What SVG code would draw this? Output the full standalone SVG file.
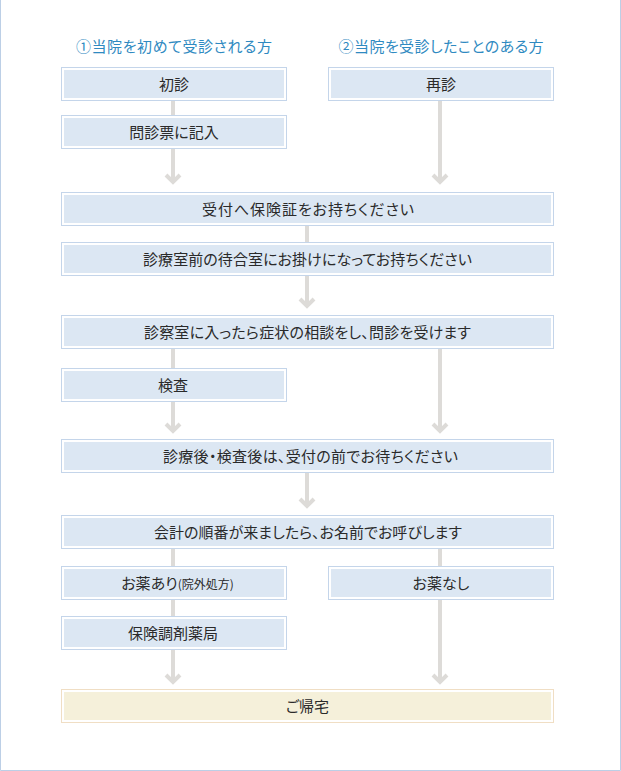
<svg xmlns="http://www.w3.org/2000/svg" width="621" height="771" viewBox="0 0 621 771">
<style>
text{font-family:"Noto Sans CJK JP","Noto Sans",sans-serif;font-size:15px;fill:#2a2a2a;text-anchor:middle;font-feature-settings:"palt";}
.hd{fill:#2f8ac1;}
.bo{fill:#ffffff;stroke:#c4d5ea;stroke-width:1;}
.bi{fill:#dce7f3;}
.yo{fill:#ffffff;stroke:#f0dec4;stroke-width:1;}
.yi{fill:#f5f0da;}
.ln{stroke:#dddbd8;stroke-width:4;fill:none;}
.ah{stroke:#dddbd8;stroke-width:4;fill:none;stroke-linejoin:miter;}
</style>
<rect x="0" y="0" width="621" height="771" fill="#ffffff"/>
<path d="M0.5,0 V770.5 H620.5 V0" fill="none" stroke="#bccfe6" stroke-width="1"/>
<text class="hd" x="174" y="52" textLength="196" lengthAdjust="spacing">①当院を初めて受診される方</text>
<text class="hd" x="441" y="52" textLength="205" lengthAdjust="spacing">②当院を受診したことのある方</text>
<g id="connectors">
<line class="ln" x1="173" y1="101" x2="173" y2="115"/>
<line class="ln" x1="173" y1="149" x2="173" y2="181"/>
<path class="ah" d="M166,175 L173,182 L180,175"/>
<line class="ln" x1="440" y1="101" x2="440" y2="181"/>
<path class="ah" d="M433,175 L440,182 L447,175"/>
<line class="ln" x1="307" y1="226" x2="307" y2="242"/>
<line class="ln" x1="307" y1="276" x2="307" y2="305"/>
<path class="ah" d="M300,299 L307,306 L314,299"/>
<line class="ln" x1="173" y1="349" x2="173" y2="368"/>
<line class="ln" x1="173" y1="402" x2="173" y2="430"/>
<path class="ah" d="M166,424 L173,431 L180,424"/>
<line class="ln" x1="440" y1="349" x2="440" y2="430"/>
<path class="ah" d="M433,424 L440,431 L447,424"/>
<line class="ln" x1="307" y1="473" x2="307" y2="505"/>
<path class="ah" d="M300,499 L307,506 L314,499"/>
<line class="ln" x1="173" y1="549" x2="173" y2="566"/>
<line class="ln" x1="440" y1="549" x2="440" y2="566"/>
<line class="ln" x1="173" y1="600" x2="173" y2="616"/>
<line class="ln" x1="173" y1="650" x2="173" y2="681"/>
<path class="ah" d="M166,675 L173,682 L180,675"/>
<line class="ln" x1="440" y1="600" x2="440" y2="681"/>
<path class="ah" d="M433,675 L440,682 L447,675"/>
</g>
<g id="n-shoshin"><rect class="bo" x="61.5" y="67.5" width="225" height="33"/><rect class="bi" x="64" y="70" width="220" height="28"/><text x="174" y="90">初診</text></g>
<g id="n-saishin"><rect class="bo" x="328.5" y="67.5" width="225" height="33"/><rect class="bi" x="331" y="70" width="220" height="28"/><text x="441" y="90">再診</text></g>
<g id="n-monshinhyo"><rect class="bo" x="61.5" y="115.5" width="225" height="33"/><rect class="bi" x="64" y="118" width="220" height="28"/><text x="174" y="138">問診票に記入</text></g>
<g id="n-uketsuke"><rect class="bo" x="61.5" y="192.5" width="492" height="33"/><rect class="bi" x="64" y="195" width="487" height="28"/><text x="308" y="215" textLength="212" lengthAdjust="spacing">受付へ保険証をお持ちください</text></g>
<g id="n-machiai"><rect class="bo" x="61.5" y="242.5" width="492" height="33"/><rect class="bi" x="64" y="245" width="487" height="28"/><text x="307.5" y="265" textLength="329" lengthAdjust="spacing">診療室前の待合室にお掛けになってお持ちください</text></g>
<g id="n-shinsatsu"><rect class="bo" x="61.5" y="315.5" width="492" height="33"/><rect class="bi" x="64" y="318" width="487" height="28"/><text x="307.5" y="338" textLength="327" lengthAdjust="spacing">診察室に入ったら症状の相談をし、問診を受けます</text></g>
<g id="n-kensa"><rect class="bo" x="61.5" y="368.5" width="225" height="33"/><rect class="bi" x="64" y="371" width="220" height="28"/><text x="173" y="391">検査</text></g>
<g id="n-shinryogo"><rect class="bo" x="61.5" y="439.5" width="492" height="33"/><rect class="bi" x="64" y="442" width="487" height="28"/><text x="310.5" y="462" textLength="295" lengthAdjust="spacing">診療後・検査後は、受付の前でお待ちください</text></g>
<g id="n-kaikei"><rect class="bo" x="61.5" y="515.5" width="492" height="33"/><rect class="bi" x="64" y="518" width="487" height="28"/><text x="308" y="538" textLength="308" lengthAdjust="spacing">会計の順番が来ましたら、お名前でお呼びします</text></g>
<g id="n-kusuri-ari"><rect class="bo" x="61.5" y="566.5" width="225" height="33"/><rect class="bi" x="64" y="569" width="220" height="28"/><text x="177.5" y="589">お薬あり<tspan font-size="12">(院外処方)</tspan></text></g>
<g id="n-kusuri-nashi"><rect class="bo" x="328.5" y="566.5" width="225" height="33"/><rect class="bi" x="331" y="569" width="220" height="28"/><text x="441" y="589">お薬なし</text></g>
<g id="n-yakkyoku"><rect class="bo" x="61.5" y="616.5" width="225" height="33"/><rect class="bi" x="64" y="619" width="220" height="28"/><text x="173" y="639">保険調剤薬局</text></g>
<g id="n-kitaku"><rect class="yo" x="61.5" y="689.5" width="492" height="33"/><rect class="yi" x="64" y="692" width="487" height="28"/><text x="307.5" y="712">ご帰宅</text></g>
</svg>
